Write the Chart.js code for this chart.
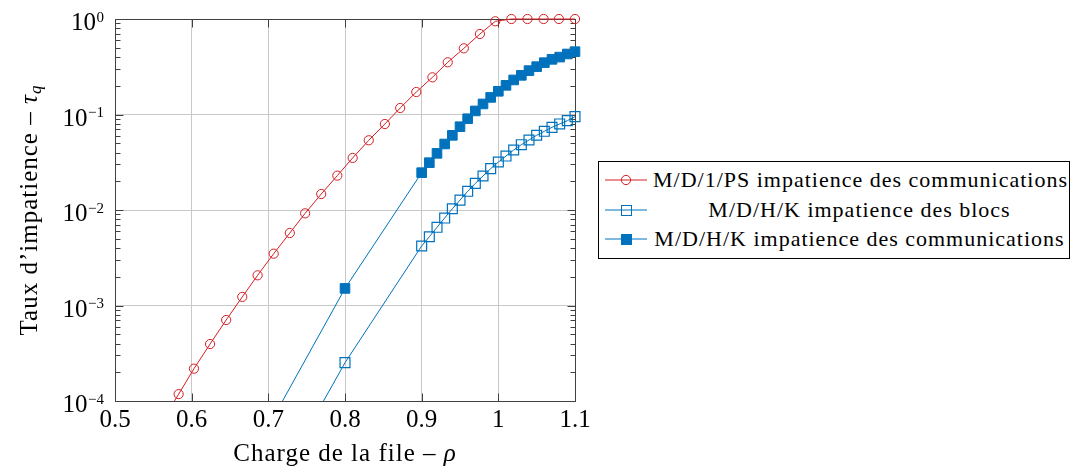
<!DOCTYPE html>
<html>
<head>
<meta charset="utf-8">
<script src="https://cdn.jsdelivr.net/npm/chart.js@4.4.1/dist/chart.umd.min.js"></script>
<style>
body { margin: 0; background: #fff; }
#wrap { position: relative; width: 1073px; height: 471px; }
#legend {
  position: absolute; left: 598px; top: 161px; width: 470px; height: 96px;
  border: 1px solid #000; background: #fff;
  font-family: "Liberation Serif", serif; font-size: 22px; letter-spacing: 1px; color: #000;
}
.row { position: absolute; left: 0; width: 100%; height: 28px; }
.row svg { position: absolute; left: 6px; top: 0; }
.row span { position: absolute; left: 54px; width: 413px; text-align: center; line-height: 28px; white-space: nowrap; }
</style>
</head>
<body>
<div id="wrap">
  <canvas id="myChart" width="1073" height="471"></canvas>
  <div id="legend"></div>
</div>
<script>
// x values (rho) and tau values
const rhoPS = [0.562, 0.583, 0.603, 0.624, 0.645, 0.666, 0.686, 0.707, 0.728, 0.748, 0.769, 0.790, 0.810,
  0.831, 0.852, 0.872, 0.893, 0.914, 0.934, 0.955, 0.976, 0.996, 1.017, 1.038, 1.059, 1.079, 1.100];
const tauPS = [6.2e-5, 1.18e-4, 2.18e-4, 3.95e-4, 7.05e-4, 1.23e-3, 2.07e-3, 3.49e-3, 5.74e-3, 9.23e-3,
  0.0147, 0.0229, 0.0351, 0.0537, 0.0795, 0.117, 0.172, 0.245, 0.352, 0.493, 0.697, 0.946, 1, 1, 1, 1, 1];

const rhoHK = [0.70, 0.80, 0.90, 0.91, 0.92, 0.93, 0.94, 0.95, 0.96, 0.97, 0.98, 0.99, 1.00,
  1.01, 1.02, 1.03, 1.04, 1.05, 1.06, 1.07, 1.08, 1.09, 1.10];
const tauBlocs = [9.3e-6, 2.52e-4, 4.20e-3, 5.25e-3, 6.59e-3, 8.24e-3, 0.0103, 0.0127, 0.0157, 0.0190,
  0.0227, 0.0271, 0.0318, 0.0367, 0.0425, 0.0483, 0.0541, 0.0606, 0.0667, 0.0734, 0.0796, 0.0862, 0.0949];
const tauComm = [5.4e-5, 1.51e-3, 0.0246, 0.0313, 0.0392, 0.0491, 0.0605, 0.0745, 0.0903, 0.109,
  0.129, 0.151, 0.175, 0.202, 0.230, 0.257, 0.288, 0.317, 0.349, 0.378, 0.399, 0.430, 0.455];

const seriesLabels = [
  "M/D/1/PS impatience des communications",
  "M/D/H/K impatience des blocs",
  "M/D/H/K impatience des communications"
];
const xTicks = [0.5, 0.6, 0.7, 0.8, 0.9, 1.0, 1.1];
const yTicks = [1e-4, 1e-3, 1e-2, 1e-1, 1];

const red = 'rgb(212,30,36)';
const blue = '#0072BD';
const serif = '"Liberation Serif", serif';

// zip x and y arrays into points
function toPoints(xs, ys) {
  return xs.map((x, i) => ({ x: x, y: ys[i] }));
}

// frame, minor ticks, tick labels with exponents, axis titles
const framePlugin = {
  id: 'frame',
  beforeDatasetsDraw(chart) {
    const ctx = chart.ctx;
    const a = chart.chartArea;
    const xs = chart.scales.x, ys = chart.scales.y;
    const L = Math.round(a.left) + 0.5, R = Math.round(a.right) + 0.5;
    const T = Math.round(a.top) + 0.5, B = Math.round(a.bottom) + 0.5;
    ctx.save();
    ctx.strokeStyle = '#404040';
    ctx.lineWidth = 1;
    ctx.beginPath();
    // minor ticks on log axis
    for (let e = -4; e < 0; e++) {
      for (let m = 2; m <= 9; m++) {
        const py = Math.round(ys.getPixelForValue(m * Math.pow(10, e))) + 0.5;
        ctx.moveTo(L, py); ctx.lineTo(L + 5, py);
        ctx.moveTo(R, py); ctx.lineTo(R - 5, py);
      }
    }
    yTicks.forEach(v => {
      const py = Math.round(ys.getPixelForValue(v)) + 0.5;
      ctx.moveTo(L, py); ctx.lineTo(L + 8, py);
      ctx.moveTo(R, py); ctx.lineTo(R - 8, py);
    });
    xTicks.forEach(v => {
      const px = Math.round(xs.getPixelForValue(v)) + 0.5;
      ctx.moveTo(px, B); ctx.lineTo(px, B - 8);
      ctx.moveTo(px, T); ctx.lineTo(px, T + 8);
    });
    ctx.stroke();
    ctx.strokeRect(L, T, R - L, B - T);
    ctx.restore();
  },
  afterDraw(chart) {
    const ctx = chart.ctx;
    const a = chart.chartArea;
    const ys = chart.scales.y;
    ctx.save();
    ctx.fillStyle = '#000';
    // y tick labels 10^k
    yTicks.forEach(v => {
      const e = Math.round(Math.log10(v));
      const py = ys.getPixelForValue(v);
      const ex = e === 0 ? '0' : '\u2212' + (-e);
      ctx.textAlign = 'right';
      ctx.textBaseline = 'alphabetic';
      ctx.font = '15px ' + serif;
      const ew = ctx.measureText(ex).width;
      ctx.fillText(ex, 104, py + 2.5);
      ctx.font = '25px ' + serif;
      ctx.fillText('10', 104 - ew - 0.5, py + 11);
    });

    // x title
    ctx.textAlign = 'left';
    ctx.textBaseline = 'alphabetic';
    ctx.font = '25px ' + serif;
    ctx.letterSpacing = '1px';
    const xt1 = 'Charge de la file \u2013 ';
    const w1 = ctx.measureText(xt1).width;
    ctx.font = 'italic 25px ' + serif;
    const w2 = ctx.measureText('\u03c1').width;
    let sx = (a.left + a.right) / 2 - (w1 + w2) / 2;
    ctx.font = '25px ' + serif;
    ctx.fillText(xt1, sx, 461);
    ctx.font = 'italic 25px ' + serif;
    ctx.fillText('\u03c1', sx + w1, 461);

    // y title, rotated
    ctx.translate(37, (a.top + a.bottom) / 2);
    ctx.rotate(-Math.PI / 2);
    ctx.font = '25px ' + serif;
    const yt1 = 'Taux d\u2019impatience \u2013 ';
    const y1 = ctx.measureText(yt1).width;
    ctx.font = 'italic 25px ' + serif;
    const y2 = ctx.measureText('\u03c4').width;
    ctx.font = 'italic 17px ' + serif;
    const y3 = ctx.measureText('q').width;
    let tx = -(y1 + y2 + y3) / 2;
    ctx.font = '25px ' + serif;
    ctx.fillText(yt1, tx, 0);
    ctx.font = 'italic 25px ' + serif;
    ctx.fillText('\u03c4', tx + y1, 0);
    ctx.font = 'italic 17px ' + serif;
    ctx.fillText('q', tx + y1 + y2, 4);
    ctx.restore();
  }
};

const clipArea = { left: 0, top: 10, right: 10, bottom: 0 };

let ctx = document.getElementById('myChart').getContext('2d');
let myChart = new Chart(ctx, {
  type: 'line',
  data: {
    datasets: [{
      label: seriesLabels[0],
      data: toPoints(rhoPS, tauPS),
      borderColor: red,
      borderWidth: 1,
      pointStyle: 'circle',
      pointRadius: 4.6,
      pointBorderWidth: 1,
      pointBorderColor: red,
      pointBackgroundColor: 'rgba(0,0,0,0)',
      clip: clipArea
    }, {
      label: seriesLabels[1],
      data: toPoints(rhoHK, tauBlocs),
      borderColor: blue,
      borderWidth: 1,
      pointStyle: 'rect',
      pointRadius: 7,
      pointBorderWidth: 1.2,
      pointBorderColor: blue,
      pointBackgroundColor: 'rgba(0,0,0,0)',
      clip: clipArea
    }, {
      label: seriesLabels[2],
      data: toPoints(rhoHK, tauComm),
      borderColor: blue,
      borderWidth: 1,
      pointStyle: 'rect',
      pointRadius: 6.8,
      pointBorderWidth: 1,
      pointBorderColor: blue,
      pointBackgroundColor: blue,
      clip: clipArea
    }]
  },
  options: {
    responsive: false,
    animation: false,
    devicePixelRatio: 1,
    layout: { autoPadding: false, padding: { left: 0, right: 498, top: 19, bottom: 0 } },
    plugins: { legend: { display: false }, tooltip: { enabled: false } },
    elements: { line: { tension: 0 } },
    scales: {
      x: {
        type: 'linear',
        min: 0.5, max: 1.1,
        afterBuildTicks: s => { s.ticks = xTicks.map(v => ({ value: v })); },
        afterFit: s => { s.height = 70; },
        grid: { color: '#c8c8c8', lineWidth: 1, drawTicks: false },
        border: { display: false },
        ticks: {
          padding: 4,
          color: '#000',
          font: { family: serif, size: 25 },
          callback: v => String(parseFloat(v.toFixed(1)))
        }
      },
      y: {
        type: 'logarithmic',
        min: 1e-4, max: 1,
        afterBuildTicks: s => { s.ticks = yTicks.map(v => ({ value: v })); },
        afterFit: s => { s.width = 115; },
        grid: { color: '#c8c8c8', lineWidth: 1, drawTicks: false },
        border: { display: false },
        ticks: { display: false }
      }
    }
  },
  plugins: [framePlugin]
});

// html legend
const legendIcons = [
  `<line x1="0" y1="14" x2="42" y2="14" stroke="${red}" stroke-width="1"/><circle cx="21" cy="14" r="4.6" fill="none" stroke="${red}" stroke-width="1"/>`,
  `<line x1="0" y1="14" x2="42" y2="14" stroke="${blue}" stroke-width="1"/><rect x="16.5" y="9.5" width="10" height="10" fill="none" stroke="${blue}" stroke-width="1"/>`,
  `<line x1="0" y1="14" x2="42" y2="14" stroke="${blue}" stroke-width="1"/><rect x="16.5" y="9.5" width="10" height="10" fill="${blue}" stroke="${blue}" stroke-width="1"/>`
];
const rowTops = [4, 34, 63];
let legendHtml = '';
for (let i = 0; i < seriesLabels.length; i++) {
  legendHtml += `<div class="row" style="top:${rowTops[i]}px"><svg width="44" height="28">${legendIcons[i]}</svg><span>${seriesLabels[i]}</span></div>`;
}
document.getElementById('legend').innerHTML = legendHtml;
</script>
</body>
</html>
